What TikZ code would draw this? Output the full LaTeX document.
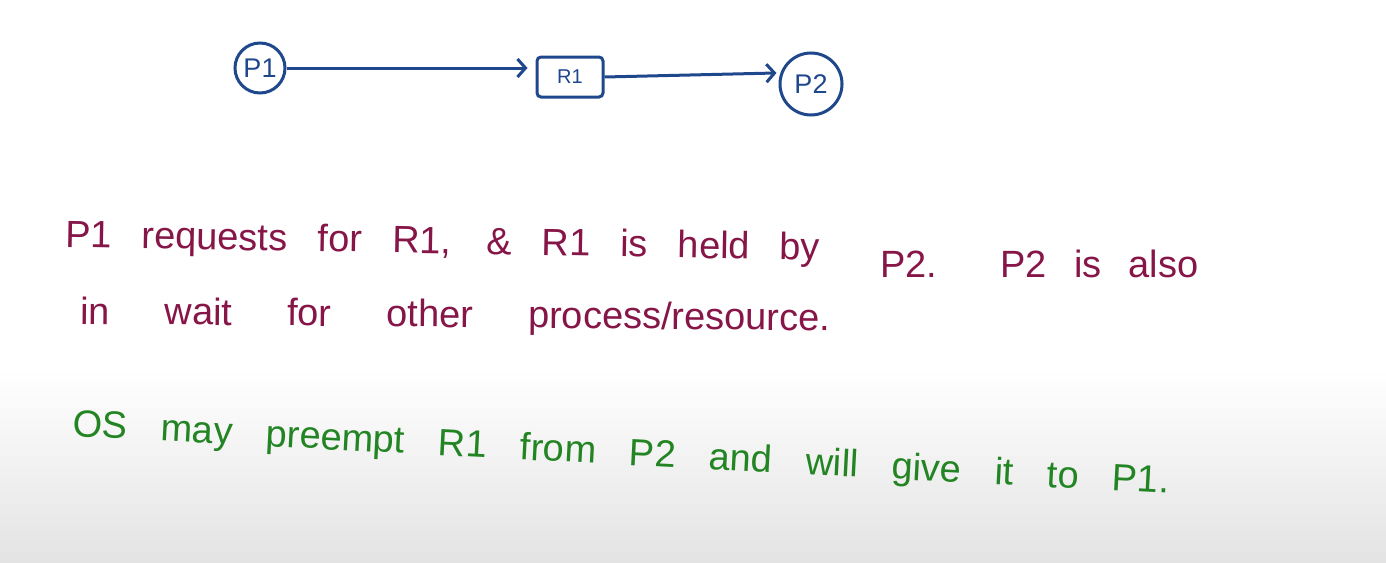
\documentclass[tikz,border=0pt]{standalone}
\usepackage{fontspec}
\setmainfont{Liberation Sans}
\usetikzlibrary{arrows.meta,positioning}
\definecolor{inkblue}{RGB}{31,72,140}
\definecolor{inkred}{RGB}{135,22,72}
\definecolor{inkgreen}{RGB}{34,132,34}
\begin{document}
\begin{tikzpicture}[
  x=1pt, y=-1pt,
  proc/.style={draw=inkblue, line width=3pt, circle, text=inkblue, inner sep=0pt, font=\fontsize{27}{27}\selectfont},
  res/.style={draw=inkblue, line width=3pt, rounded corners=4pt, minimum width=66pt, minimum height=40pt, text=inkblue, font=\fontsize{20}{20}\selectfont},
  edge/.style={draw=inkblue, line width=3pt, -{Straight Barb[length=8pt,width=18pt]}},
  note/.style={anchor=base west, inner sep=0pt, font=\fontsize{38}{38}\selectfont}
]
\useasboundingbox (0,0) rectangle (1386,562);
\shade[top color=white, bottom color=gray!22] (0,370) rectangle (1386,562);

% allocation graph
\node[proc, minimum size=50pt] (p1) at (260,68) {P1};
\node[res] (r1) at (570,77) {R1};
\node[proc, minimum size=62pt] (p2) at (811,84) {P2};
\draw[edge, shorten >=8pt] (p1.east) -- (r1.west |- p1.east);
\draw[edge, shorten >=4pt] (r1.east) -- (p2.160);

% notes
\node[note, text=inkred, rotate=-1] (req) at (65,247)
  {\makebox[755pt][s]{P1 requests for R1, \& R1 is held by}};
\node[note, text=inkred] (held) at (880,277)
  {\makebox[318pt][s]{P2. P2 is also}};
\node[note, text=inkred, rotate=-0.5] (wait) at (80,324)
  {\makebox[750pt][s]{in wait for other process/resource.}};
\node[note, text=inkgreen, rotate=-3] (os) at (72,436)
  {\makebox[1098pt][s]{OS may preempt R1 from P2 and will give it to P1.}};
\end{tikzpicture}
\end{document}
